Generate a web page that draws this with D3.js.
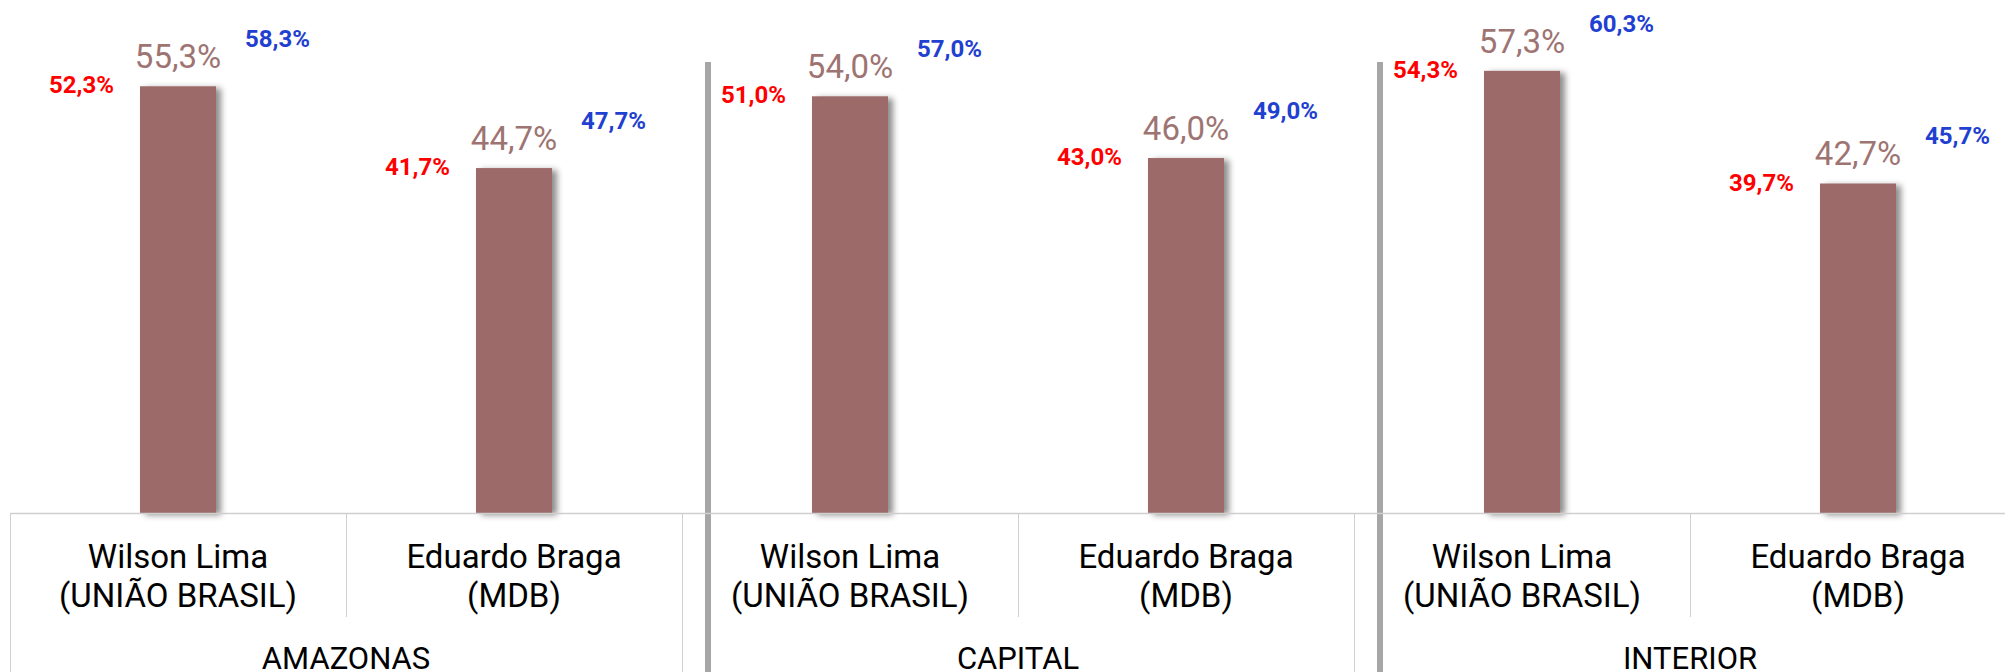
<!DOCTYPE html>
<html>
<head>
<meta charset="utf-8">
<script src="https://cdn.jsdelivr.net/npm/d3@7"></script>
<style>
  html, body { margin: 0; padding: 0; background: #fff; }
  svg { display: block; }
  text { font-family: Roboto, "DejaVu Sans", sans-serif; }
</style>
</head>
<body>
<svg id="chart" width="2005" height="672"></svg>
<script>
// ---- data ----
const groups = ["AMAZONAS", "CAPITAL", "INTERIOR"];
const candidates = ["Wilson Lima", "Eduardo Braga"];
const parties = ["(UNIÃO BRASIL)", "(MDB)"];
const values = [55.3, 44.7, 54.0, 46.0, 57.3, 42.7];   // estimate
const lower  = [52.3, 41.7, 51.0, 43.0, 54.3, 39.7];   // lower bound
const upper  = [58.3, 47.7, 57.0, 49.0, 60.3, 45.7];   // upper bound

// ---- layout ----
const W = 2005, H = 672;
const left = 10, bandW = 336;
const baseY = 513, topY = 50;

const svg = d3.select("#chart");
svg.append("rect").attr("width", W).attr("height", H).attr("fill", "#fff");

const defs = svg.append("defs");
const f = defs.append("filter").attr("id", "shadow")
  .attr("x", "-20%").attr("y", "-10%").attr("width", "150%").attr("height", "130%");
f.append("feDropShadow").attr("dx", 5).attr("dy", 2).attr("stdDeviation", 3)
  .attr("flood-color", "#000").attr("flood-opacity", 0.45);

const keys = [];
groups.forEach((g, gi) => candidates.forEach((c, ci) => keys.push(gi + "-" + ci)));

const x = d3.scaleBand().domain(keys).range([left, left + bandW * keys.length]).paddingInner(0).paddingOuter(0);
const xg = d3.scaleBand().domain(groups).range([left, left + bandW * keys.length]);
const y = d3.scaleLinear().domain([0, 60]).range([baseY, topY]);

const locale = d3.formatLocale({ decimal: ",", thousands: ".", grouping: [3], currency: ["R$", ""] });
const fmt = v => locale.format(".1f")(v) + "%";

const barW = 76;
const cx = i => x(keys[i]) + x.bandwidth() / 2;

// thick gray dividers
groups.slice(1).forEach(g => {
  svg.append("rect")
    .attr("x", xg(g) + 23).attr("y", 62)
    .attr("width", 6).attr("height", H - 62)
    .attr("fill", "#a6a6a6");
});

// bars
svg.append("g").selectAll("rect").data(values).join("rect")
  .attr("x", (d, i) => cx(i) - barW / 2)
  .attr("y", d => y(d))
  .attr("width", barW)
  .attr("height", d => y(0) - y(d))
  .attr("fill", "#9c6a69")
  .attr("filter", "url(#shadow)");

// axis table lines
const axisG = svg.append("g");
axisG.append("line").attr("x1", left).attr("x2", W).attr("y1", baseY + 0.5).attr("y2", baseY + 0.5)
  .attr("stroke", "#cfcfcf").attr("stroke-width", 1.6);
axisG.append("line").attr("x1", left + 0.5).attr("x2", left + 0.5).attr("y1", baseY).attr("y2", H)
  .attr("stroke", "#d0d0d0").attr("stroke-width", 1);
keys.forEach((k, i) => {
  const xr = x(k) + x.bandwidth();
  const isGroupEnd = (i % 2 === 1);
  axisG.append("line").attr("x1", xr + 0.5).attr("x2", xr + 0.5)
    .attr("y1", baseY).attr("y2", isGroupEnd ? H : 617)
    .attr("stroke", "#d0d0d0").attr("stroke-width", 1);
});

// category labels
const lab = svg.append("g").attr("text-anchor", "middle").attr("fill", "#000");
keys.forEach((k, i) => {
  const ci = i % 2;
  lab.append("text").attr("x", cx(i)).attr("y", 568).attr("font-size", 33).text(candidates[ci]);
  lab.append("text").attr("x", cx(i)).attr("y", 607).attr("font-size", 33).text(parties[ci]);
});
groups.forEach(g => {
  lab.append("text").attr("x", xg(g) + xg.bandwidth() / 2).attr("y", 669).attr("font-size", 31).text(g);
});

// value labels
svg.append("g").selectAll("text").data(values).join("text")
  .attr("x", (d, i) => cx(i)).attr("y", d => y(d) - 18)
  .attr("text-anchor", "middle").attr("font-size", 33).attr("fill", "#9e7472")
  .text(d => fmt(d));

svg.append("g").selectAll("text").data(lower).join("text")
  .attr("x", (d, i) => cx(i) - 64).attr("y", d => y(d) - 16)
  .attr("text-anchor", "end").attr("font-size", 24).attr("font-weight", "bold").attr("fill", "#ff0000")
  .text(d => fmt(d));

svg.append("g").selectAll("text").data(upper).join("text")
  .attr("x", (d, i) => cx(i) + 67).attr("y", d => y(d) - 16)
  .attr("text-anchor", "start").attr("font-size", 24).attr("font-weight", "bold").attr("fill", "#1f40d0")
  .text(d => fmt(d));
</script>
</body>
</html>
